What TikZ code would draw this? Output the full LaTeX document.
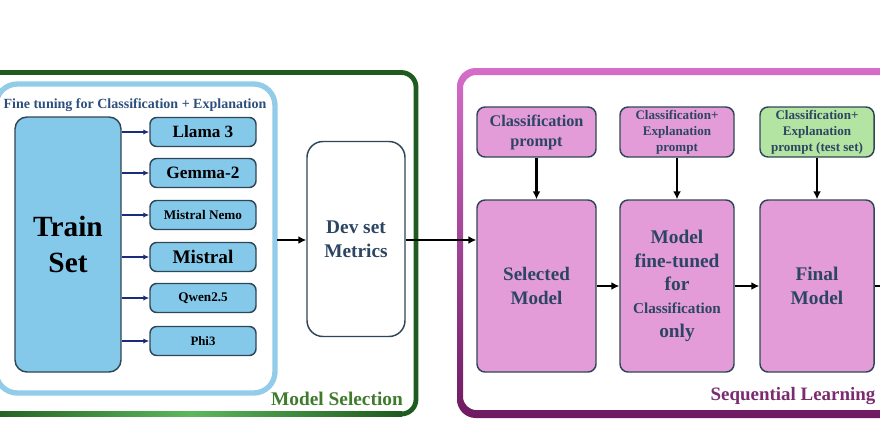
\documentclass[tikz,border=0pt]{standalone}
\usepackage{fontspec}
\setmainfont{Liberation Serif}
\usetikzlibrary{arrows.meta}

\definecolor{skyfill}{HTML}{85C9EA}
\definecolor{skyframe}{HTML}{92CCE9}
\definecolor{boxline}{HTML}{2F4656}
\definecolor{pinkfill}{HTML}{E49CD9}
\definecolor{greenfill}{HTML}{B4E4A2}
\definecolor{slatetext}{HTML}{2C4563}
\definecolor{titleblue}{HTML}{2D4F7C}
\definecolor{navyarrow}{HTML}{1B2C78}
\definecolor{selgreen}{HTML}{1F5A1F}
\definecolor{sellight}{HTML}{5CB85C}
\definecolor{sellabel}{HTML}{3E7B2C}
\definecolor{seqtop}{HTML}{D66DC9}
\definecolor{seqbot}{HTML}{6E1A60}
\definecolor{seqlabel}{HTML}{7B2B6F}

\newcommand{\fs}[2]{\bfseries\fontsize{#1}{#2}\selectfont}

\tikzset{
  skybox/.style={draw=boxline, line width=1.1pt, fill=skyfill, rounded corners=5pt,
    inner sep=0pt, align=center, text=black},
  modelbox/.style={skybox, minimum width=79.5pt, minimum height=21.75pt},
  pinkbox/.style={draw=boxline, line width=1.1pt, fill=pinkfill, rounded corners=6pt,
    inner sep=0pt, align=center, text=slatetext},
  promptbox/.style={pinkbox, minimum height=37.5pt},
  stagebox/.style={pinkbox, minimum height=129pt},
  thinarrow/.style={navyarrow, line width=1.1pt, -{Latex[length=4.5pt,width=4pt]}},
  thickarrow/.style={black, line width=1.8pt, -{Latex[length=6pt,width=6pt]}}
}

\begin{document}
\begin{tikzpicture}[x=0.75pt, y=-0.75pt]
\useasboundingbox (0,0) rectangle (880,440);

% frames
\draw[selgreen, line width=3.6pt, rounded corners=11pt] (-20,72.5) rectangle (416,414);
\shade[left color=selgreen, right color=selgreen, middle color=sellight] (-20,411.6) rectangle (402,416.4);
\draw[skyframe, line width=4pt, rounded corners=16pt] (-4,84) rectangle (275,393);
\shade[top color=seqtop, bottom color=seqbot, even odd rule]
  [rounded corners=14pt] (457,68) rectangle (920,418)
  [rounded corners=10pt] (463,75) rectangle (914,410);

\node[text=titleblue, font=\fs{10.5}{12}] (fttitle) at (135,105) {Fine tuning for Classification + Explanation};
\node[text=sellabel, font=\fs{14.5}{16}] (sellab) at (337,399) {Model Selection};
\node[text=seqlabel, font=\fs{14.2}{16}] (seqlab) at (793,396) {Sequential Learning};

% fine tuning
\node[skybox, rounded corners=9pt, minimum width=79.5pt, minimum height=191.25pt, font=\fs{22}{27}] (train) at (68,244.5) {Train\\Set};

\node[modelbox, font=\fs{12.9}{14}] (llama) at (203,132) {Llama 3};
\node[modelbox, font=\fs{13}{14}] (gemma) at (203,173) {Gemma-2};
\node[modelbox, font=\fs{9.9}{11}] (nemo) at (203,215) {Mistral Nemo};
\node[modelbox, font=\fs{14.4}{15}] (mistral) at (203,257) {Mistral};
\node[modelbox, font=\fs{9.9}{11}] (qwen) at (203,298) {Qwen2.5};
\node[modelbox, font=\fs{9.6}{11}] (phi) at (203,341) {Phi3};

\draw[thinarrow] (train.east |- llama) -- (llama);
\draw[thinarrow] (train.east |- gemma) -- (gemma);
\draw[thinarrow] (train.east |- nemo) -- (nemo);
\draw[thinarrow] (train.east |- mistral) -- (mistral);
\draw[thinarrow] (train.east |- qwen) -- (qwen);
\draw[thinarrow] (train.east |- phi) -- (phi);

% model selection
\node[draw=boxline, line width=1.1pt, fill=white, rounded corners=12pt, minimum width=73.5pt,
  minimum height=146.25pt, align=center, text=slatetext, font=\fs{14.5}{18}] (dev) at (356,239) {Dev set\\Metrics};
\coordinate (ftout) at (277,240);
\draw[thickarrow] (ftout) -- (dev.west |- ftout);

% sequential learning
\node[promptbox, minimum width=89.25pt, font=\fs{12.2}{15}] (clsprompt) at (536.5,132) {Classification\\prompt};
\node[promptbox, minimum width=85.5pt, font=\fs{9.8}{12}] (expprompt) at (677,132) {Classification+\\Explanation\\prompt};
\node[promptbox, fill=greenfill, minimum width=85.5pt, font=\fs{9.8}{12}] (testprompt) at (817,132) {Classification+\\Explanation\\prompt (test set)};

\node[stagebox, minimum width=89.25pt, font=\fs{14.3}{18}] (selected) at (536.5,286) {Selected\\Model};
\node[stagebox, minimum width=85.5pt, font=\fs{14.5}{17.5}] (tuned) at (677,286)
  {Model\\fine-tuned\\for\\{\fontsize{11.4}{17.5}\selectfont Classification}\\only};
\node[stagebox, minimum width=85.5pt, font=\fs{14.5}{18}] (final) at (817,286) {Final\\Model};

\draw[thickarrow] (dev.east |- ftout) -- (selected.west |- ftout);
\draw[thickarrow] (clsprompt) -- (selected);
\draw[thickarrow] (expprompt) -- (tuned);
\draw[thickarrow] (testprompt) -- (final);
\draw[thickarrow] (selected) -- (tuned);
\draw[thickarrow] (tuned) -- (final);
\coordinate (out) at (884,286);
\draw[black, line width=1.8pt] (final) -- (out);
\end{tikzpicture}
\end{document}
